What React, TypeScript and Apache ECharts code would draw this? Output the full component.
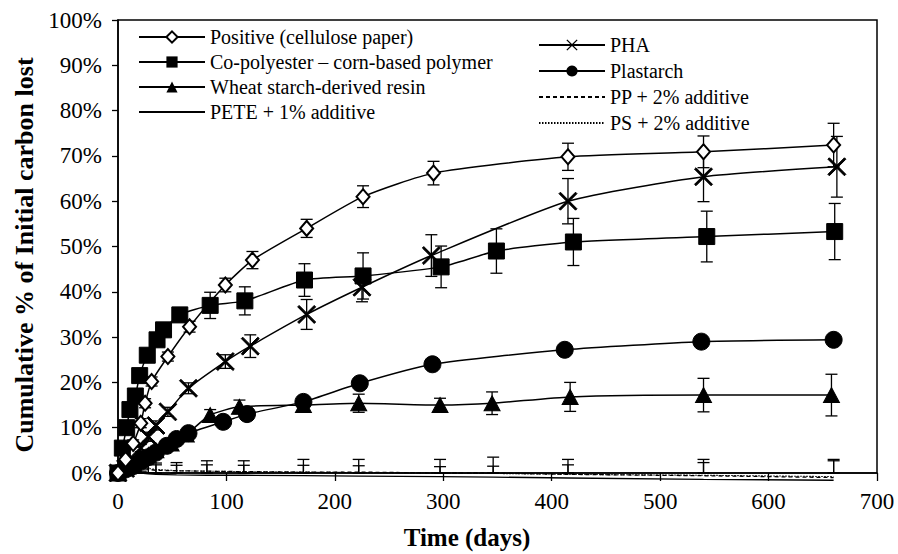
import React, { useEffect, useRef } from "react";
import * as echarts from "echarts";

// ---- data (days, % of initial carbon lost, ± error) ----
const positiveDays = [0, 7, 14, 21, 25, 31, 46, 66, 99, 124, 174, 226, 291, 415, 540, 660];
const positiveVals = [0, 3, 6.5, 11, 15.4, 20.2, 25.7, 32.3, 41.5, 47, 54, 61, 66.2, 69.8, 70.9, 72.4];
const positiveErr = [0, 0.5, 0.8, 1, 1, 1, 1, 1.2, 1.5, 1.9, 2, 2.4, 2.6, 3, 3.5, 4.8];

const copolyDays = [0, 4, 8, 11, 16, 20, 27, 36, 42, 57, 85, 117, 172, 226, 298, 349, 420, 543, 661];
const copolyVals = [0, 5.5, 10, 14, 17, 21.5, 26, 29.4, 31.6, 34.9, 37, 38, 42.6, 43.5, 45.5, 49, 51, 52.2, 53.3];
const copolyErr = [0, 0.5, 0.8, 1, 1, 1, 1.2, 1.2, 1.3, 1.5, 2.9, 3.1, 3.6, 5.1, 4.6, 4.9, 5.2, 5.6, 6.2];

const wheatDays = [0, 7, 14, 21, 28, 35, 49, 63, 85, 112, 171, 222, 297, 345, 417, 540, 658];
const wheatVals = [0, 1, 2, 3, 4, 5, 6.5, 8.5, 12.8, 14.6, 15, 15.4, 15, 15.4, 16.8, 17.2, 17.2];
const wheatErr = [0, 0.3, 0.3, 0.5, 0.5, 0.5, 0.8, 1, 1.2, 1.5, 1.5, 2, 1.5, 2.5, 3.2, 3.7, 4.6];

const phaDays = [0, 7, 14, 21, 28, 35, 46, 65, 99, 122, 174, 225, 289, 415, 540, 663];
const phaVals = [0, 1, 3, 5.5, 8, 10.5, 13.5, 18.7, 24.6, 28, 35, 41, 48, 60, 65.4, 67.6];
const phaErr = [0, 0.3, 0.5, 0.8, 1, 1, 1, 1.2, 1.5, 2.5, 3.3, 3.2, 4.6, 5, 5.5, 6.7];

const plastarchDays = [0, 7, 14, 21, 28, 35, 45, 54, 65, 97, 119, 171, 223, 290, 412, 538, 660];
const plastarchVals = [0, 0.8, 1.5, 2.5, 3.5, 4.5, 6, 7.5, 8.8, 11.3, 13, 15.7, 19.8, 24, 27.2, 29, 29.4];

const nearZeroDays = [0, 7, 14, 21, 28, 35, 54, 82, 116, 171, 222, 297, 346, 415, 540, 660];
const peteVals = [0, 0.5, 0.2, 0, -0.2, -0.3, -0.4, -0.5, -0.5, -0.6, -0.7, -0.8, -0.9, -1.1, -1.4, -1.6];
const peteErr = [0, 0.5, 0.5, 0.5, 0.5, 0.6, 0.8, 0.8, 0.8, 1, 1, 1, 1, 1, 1, 1];
const ppVals = [0, 1, 1.2, 1, 0.8, 0.6, 0.5, 0.4, 0.3, 0.2, 0.2, 0, 0, -0.3, -0.6, -1.0];
const ppErr = [0, 1, 1, 1.2, 1.5, 1.6, 1.8, 2.3, 2.4, 2.8, 2.8, 3, 3.5, 3.3, 3.6, 4];
const psVals = [0, 0.8, 1.5, 1.2, 1, 0.8, 0.5, 0.4, 0.3, 0.2, 0.1, 0, -0.1, -0.3, -0.5, -0.8];
const psErr = [0, 0.8, 0.8, 0.8, 1, 1, 1.2, 1.4, 1.4, 1.5, 1.5, 1.4, 1.6, 2.1, 2.8, 3.5];

const xTicks = [0, 100, 200, 300, 400, 500, 600, 700];
const legendLeft = [
  "Positive (cellulose paper)",
  "Co-polyester – corn-based polymer",
  "Wheat starch-derived resin",
  "PETE + 1% additive",
];
const legendRight = ["PHA", "Plastarch", "PP + 2% additive", "PS + 2% additive"];
const noMarkerNames = [legendLeft[3], legendRight[2], legendRight[3]];

const FONT = "'Liberation Serif', 'Times New Roman', serif";
const X_SYMBOL =
  "path://M0,1.6 L1.6,0 L10,8.4 L18.4,0 L20,1.6 L11.6,10 L20,18.4 L18.4,20 L10,11.6 L1.6,20 L0,18.4 L8.4,10 Z";

function pairs(xs: number[], ys: number[]) {
  return xs.map((x, i) => [x, ys[i]]);
}
function errData(xs: number[], ys: number[], es: number[]) {
  return xs.map((x, i) => [x, ys[i] - es[i], ys[i] + es[i]]);
}
function legendItems(names: string[]) {
  return names.map((n) =>
    noMarkerNames.includes(n)
      ? {
          name: n,
          itemStyle: { color: "rgba(0,0,0,0)", borderColor: "rgba(0,0,0,0)", borderWidth: 0, opacity: 0 },
        }
      : { name: n }
  );
}

function errorSeries(data: number[][]) {
  return {
    type: "custom",
    z: 1,
    silent: true,
    clip: false,
    data,
    encode: { x: 0, y: [1, 2] },
    renderItem: (params: any, api: any) => {
      const x = api.value(0);
      const lo = Math.max(api.value(1), 0);
      const hi = api.value(2);
      if (hi - lo < 0.6) return { type: "group", children: [] };
      const a = api.coord([x, hi]);
      const b = api.coord([x, lo]);
      const hw = 6;
      const st = { stroke: "#000", lineWidth: 1.3 };
      return {
        type: "group",
        children: [
          { type: "line", shape: { x1: a[0], y1: a[1], x2: b[0], y2: b[1] }, style: st },
          { type: "line", shape: { x1: a[0] - hw, y1: a[1], x2: a[0] + hw, y2: a[1] }, style: st },
          { type: "line", shape: { x1: b[0] - hw, y1: b[1], x2: b[0] + hw, y2: b[1] }, style: st },
        ],
      };
    },
  };
}

export default function App() {
  const ref = useRef<HTMLDivElement>(null);
  useEffect(() => {
    if (!ref.current) return;
    const chart = echarts.init(ref.current, null, { renderer: "svg" });
    const lineBase = {
      type: "line",
      clip: false,
      smooth: 0.2,
      lineStyle: { color: "#000", width: 1.5 },
      itemStyle: { color: "#000", borderColor: "#000" },
      z: 3,
    };
    const legendText = { fontSize: 20, lineHeight: 20, fontFamily: FONT, color: "#000" };
    chart.setOption({
      animation: false,
      backgroundColor: "#fff",
      textStyle: { fontFamily: FONT, color: "#000" },
      grid: {
        left: 118,
        right: 21,
        top: 20,
        bottom: 81,
        show: true,
        borderColor: "#000",
        borderWidth: 1.5,
        backgroundColor: "transparent",
      },
      xAxis: {
        type: "value",
        min: 0,
        max: 700,
        interval: 100,
        axisLine: { show: true, onZero: false, lineStyle: { color: "#000", width: 1.5 } },
        axisTick: { show: true, length: 8, lineStyle: { color: "#000", width: 1.3 } },
        splitLine: { show: false },
        axisLabel: {
          margin: 17,
          fontSize: 23,
          color: "#000",
          fontFamily: FONT,
          formatter: (v: number) => (xTicks.includes(v) ? String(v) : ""),
        },
      },
      yAxis: {
        type: "value",
        min: 0,
        max: 100,
        interval: 10,
        axisLine: { show: true, lineStyle: { color: "#000", width: 1.5 } },
        axisTick: { show: true, length: 6, lineStyle: { color: "#000", width: 1.3 } },
        splitLine: { show: false },
        axisLabel: {
          margin: 16,
          fontSize: 23,
          color: "#000",
          fontFamily: FONT,
          formatter: "{value}%",
        },
      },
      legend: [
        {
          data: legendItems(legendLeft),
          orient: "vertical",
          left: 133,
          top: 22,
          itemWidth: 66,
          itemHeight: 14,
          itemGap: 5,
          textStyle: legendText,
          selectedMode: false,
        },
        {
          data: legendItems(legendRight),
          orient: "vertical",
          left: 533,
          top: 30,
          itemWidth: 66,
          itemHeight: 14,
          itemGap: 6,
          textStyle: legendText,
          selectedMode: false,
        },
      ],
      graphic: [
        {
          type: "text",
          x: 467,
          y: 537,
          style: {
            text: "Time (days)",
            font: `bold 25px ${FONT}`,
            fill: "#000",
            textAlign: "center",
            textVerticalAlign: "middle",
          },
        },
        {
          type: "text",
          x: 24,
          y: 255,
          rotation: Math.PI / 2,
          style: {
            text: "Cumulative % of Initial carbon lost",
            font: `bold 26px ${FONT}`,
            fill: "#000",
            textAlign: "center",
            textVerticalAlign: "middle",
          },
        },
      ],
      series: [
        {
          ...lineBase,
          name: legendLeft[0],
          data: pairs(positiveDays, positiveVals),
          symbol: "diamond",
          symbolSize: [13, 15],
          itemStyle: { color: "#fff", borderColor: "#000", borderWidth: 2 },
          z: 4,
        },
        {
          ...lineBase,
          name: legendLeft[1],
          data: pairs(copolyDays, copolyVals),
          symbol: "rect",
          symbolSize: 16,
        },
        {
          ...lineBase,
          name: legendLeft[2],
          data: pairs(wheatDays, wheatVals),
          symbol: "triangle",
          symbolSize: [16, 15],
        },
        {
          ...lineBase,
          name: legendLeft[3],
          data: pairs(nearZeroDays, peteVals),
          symbol: "none",
          smooth: false,
          lineStyle: { color: "#000", width: 1.3 },
        },
        {
          ...lineBase,
          name: legendRight[0],
          data: pairs(phaDays, phaVals),
          symbol: X_SYMBOL,
          symbolSize: 18,
        },
        {
          ...lineBase,
          name: legendRight[1],
          data: pairs(plastarchDays, plastarchVals),
          symbol: "circle",
          symbolSize: 17,
        },
        {
          ...lineBase,
          name: legendRight[2],
          data: pairs(nearZeroDays, ppVals),
          symbol: "none",
          smooth: false,
          lineStyle: { color: "#000", width: 1.3, type: [4, 3] },
        },
        {
          ...lineBase,
          name: legendRight[3],
          data: pairs(nearZeroDays, psVals),
          symbol: "none",
          smooth: false,
          lineStyle: { color: "#000", width: 1.1, type: [1.5, 1.5] },
        },
        errorSeries(errData(positiveDays, positiveVals, positiveErr)),
        errorSeries(errData(copolyDays, copolyVals, copolyErr)),
        errorSeries(errData(wheatDays, wheatVals, wheatErr)),
        errorSeries(errData(phaDays, phaVals, phaErr)),
        errorSeries(errData(nearZeroDays, peteVals, peteErr)),
        errorSeries(errData(nearZeroDays, ppVals, ppErr)),
        errorSeries(errData(nearZeroDays, psVals, psErr)),
      ],
    });
    return () => chart.dispose();
  }, []);
  return (
    <div
      ref={ref}
      style={{ position: "fixed", left: 0, top: 0, width: 898, height: 554, background: "#fff" }}
    />
  );
}
